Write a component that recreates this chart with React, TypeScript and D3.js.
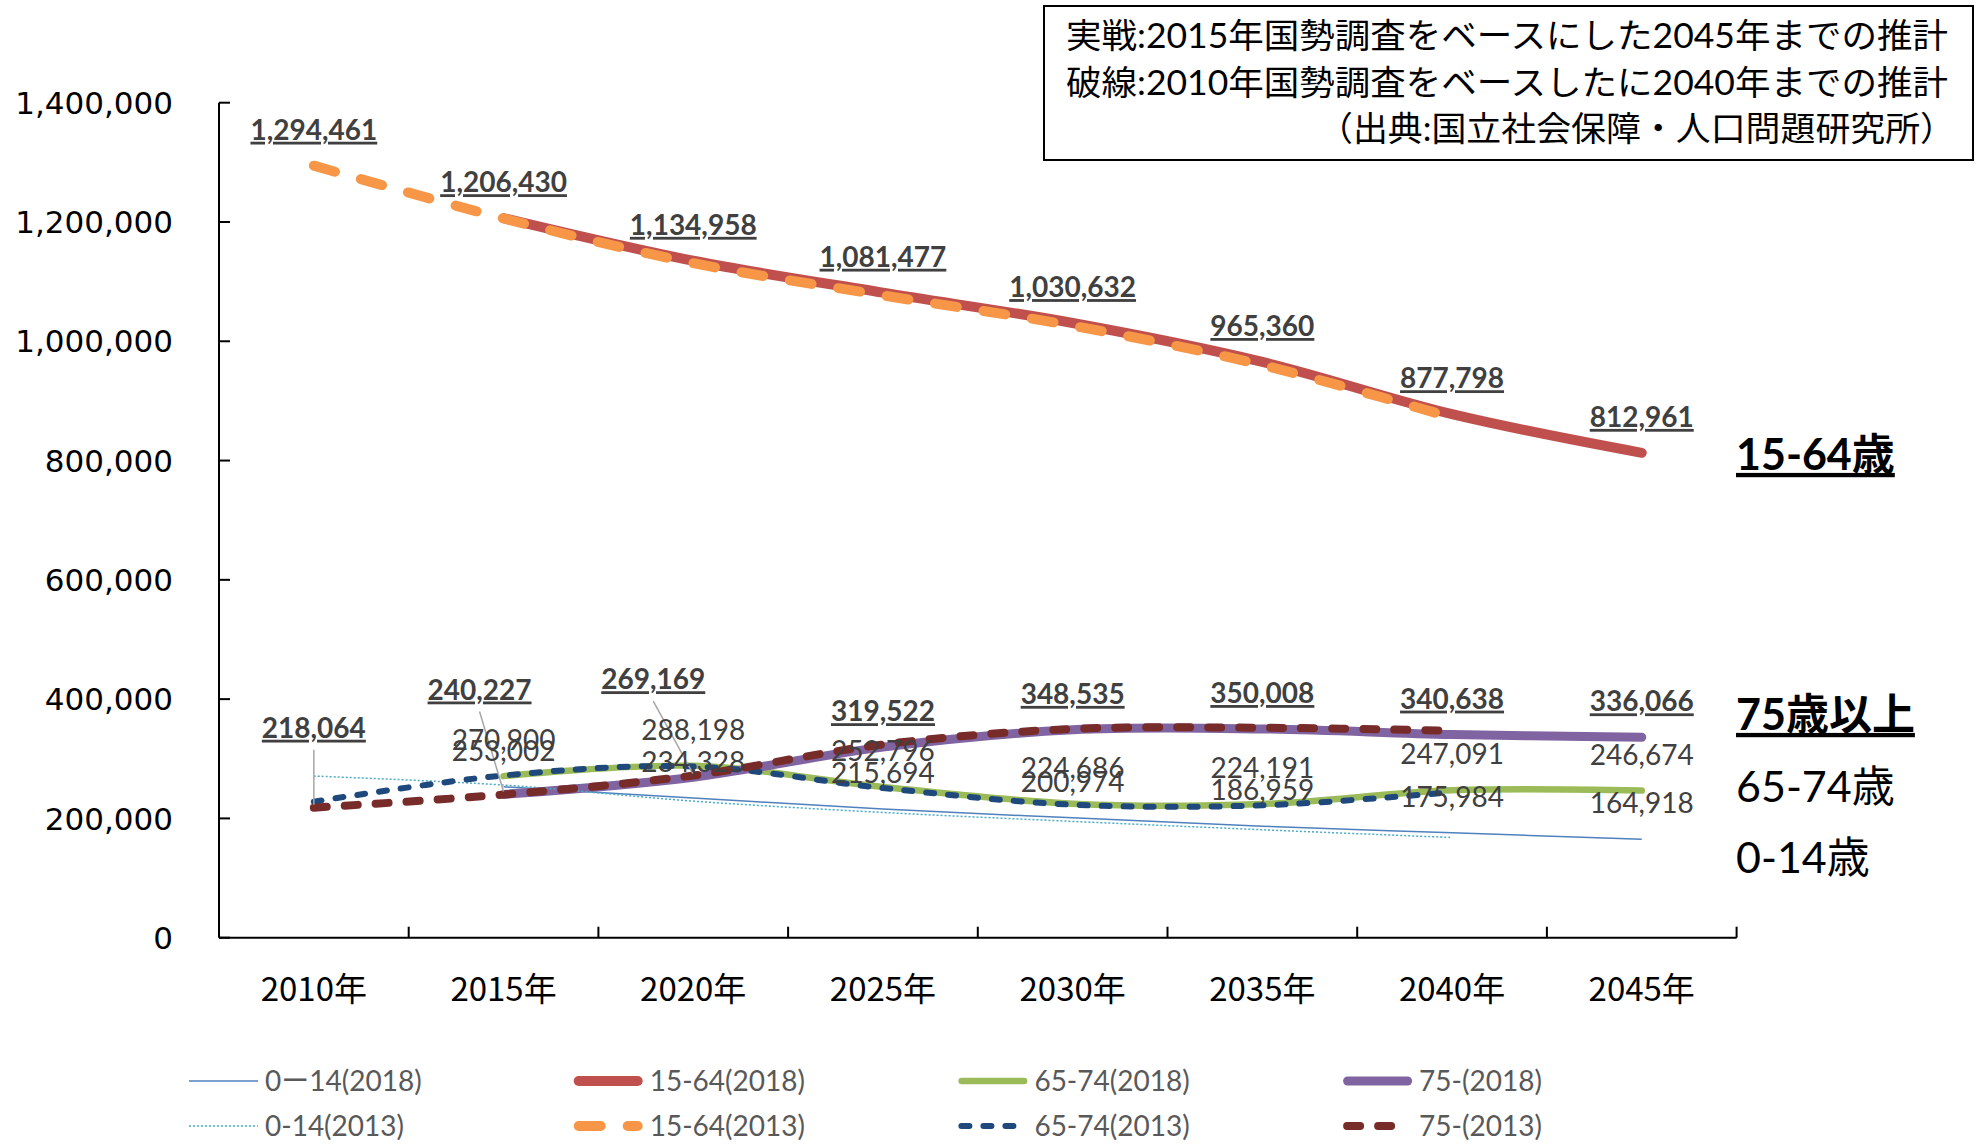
import React from "react";
import * as d3 from "d3";

// categories / values
const years = ["2010年", "2015年", "2020年", "2025年", "2030年", "2035年", "2040年", "2045年"];

// 2018 projection (solid) – based on the 2015 census
const age0_14_2018 = [null, 253002, 234328, 215694, 200974, 186959, 175984, 164918];
const age15_64_2018 = [null, 1206430, 1134958, 1081477, 1030632, 965360, 877798, 812961];
const age65_74_2018 = [null, 270900, 288198, 252796, 224686, 224191, 247091, 246674];
const age75_2018 = [null, 240227, 269169, 319522, 348535, 350008, 340638, 336066];

// 2013 projection (dashed) – based on the 2010 census
const age0_14_2013 = [271000, 256000, 229000, 210000, 195000, 181000, 168000, null];
const age15_64_2013 = [1294461, 1206000, 1131000, 1077000, 1026000, 960000, 872000, null];
const age65_74_2013 = [228000, 272000, 287000, 251000, 223000, 222000, 244000, null];
const age75_2013 = [218064, 240000, 272000, 324000, 350000, 352000, 347000, null];

const yMax = 1400000;

const noteLines = [
  "実戦:2015年国勢調査をベースにした2045年までの推計",
  "破線:2010年国勢調査をベースしたに2040年までの推計",
  "（出典:国立社会保障・人口問題研究所）",
];

const sideLabels = ["15-64歳", "75歳以上", "65-74歳", "0-14歳"];

type Series = {
  key: string;
  name: string;
  values: (number | null)[];
  color: string;
  width: number;
  dash?: string;
  cap?: "round" | "butt";
  labels?: "bold" | "plain" | "first";
};

const series: Series[] = [
  { key: "a18", name: "0ー14(2018)", values: age0_14_2018, color: "#4F81BD", width: 1.5, labels: "plain" },
  { key: "b18", name: "15-64(2018)", values: age15_64_2018, color: "#C0504D", width: 10, cap: "round", labels: "bold" },
  { key: "c18", name: "65-74(2018)", values: age65_74_2018, color: "#9BBB59", width: 6.5, cap: "round", labels: "plain" },
  { key: "d18", name: "75-(2018)", values: age75_2018, color: "#8064A2", width: 9, cap: "round", labels: "bold" },
  { key: "a13", name: "0-14(2013)", values: age0_14_2013, color: "#4BACC6", width: 1.5, dash: "2 2" },
  { key: "b13", name: "15-64(2013)", values: age15_64_2013, color: "#F79646", width: 10, dash: "22 27", cap: "round", labels: "first" },
  { key: "c13", name: "65-74(2013)", values: age65_74_2013, color: "#1F497D", width: 6, dash: "8 14", cap: "round" },
  { key: "d13", name: "75-(2013)", values: age75_2013, color: "#772C2A", width: 8, dash: "13 18", cap: "round", labels: "first" },
];

// labels that were dragged away from their point (drawn with a leader line)
const movedLabels: Record<string, [number, number]> = {
  "d13-0": [0, -80],
  "d18-1": [-24, -105],
  "d18-2": [-40, -98],
};

const W = 1977;
const H = 1144;
const fontLatin = "Lato, 'Noto Sans CJK JP', sans-serif";
const fmt = d3.format(",");

export default function App() {
  const x = d3.scaleBand<string>().domain(years).range([219, 1736.6]);
  const cx = (i: number) => (x(years[i]) ?? 0) + x.bandwidth() / 2;
  const y = d3.scaleLinear().domain([0, yMax]).range([937.7, 102.7]);

  const line = d3
    .line<number | null>()
    .defined((d) => d != null)
    .x((_, i) => cx(i))
    .y((d) => y(d as number))
    .curve(d3.curveCatmullRom);

  const labels: { x: number; y: number; px: number; py: number; text: string; bold: boolean; moved: boolean }[] = [];
  series.forEach((s) => {
    if (!s.labels) return;
    s.values.forEach((v, i) => {
      if (v == null) return;
      if (s.labels === "first" && i !== 0) return;
      const k = `${s.key}-${i}`;
      const off = movedLabels[k] ?? [0, -36];
      labels.push({
        x: cx(i) + off[0],
        y: y(v) + off[1],
        px: cx(i),
        py: y(v),
        text: fmt(v),
        bold: s.labels !== "plain",
        moved: k in movedLabels,
      });
    });
  });

  const sideY = [454, 714, 786, 857];

  return (
    <svg width={W} height={H} style={{ position: "absolute", left: 0, top: 0, background: "#fff" }}>
      {/* y axis */}
      <line x1={219} x2={219} y1={y(yMax)} y2={y(0)} stroke="#000" strokeWidth={2} />
      {y.ticks(7).map((t) => (
        <g key={t}>
          <line x1={219} x2={230} y1={y(t)} y2={y(t)} stroke="#000" strokeWidth={2} />
          <text
            x={173}
            y={y(t)}
            dy="0.36em"
            textAnchor="end"
            fontFamily="'DejaVu Sans', Verdana, sans-serif"
            fontSize={31}
            fill="#000"
          >
            {fmt(t)}
          </text>
        </g>
      ))}

      {/* x axis */}
      <line x1={219} x2={1736.6} y1={y(0)} y2={y(0)} stroke="#000" strokeWidth={2} />
      {years.map((yr, i) => (
        <g key={yr}>
          <line
            x1={(x(yr) ?? 0) + x.bandwidth()}
            x2={(x(yr) ?? 0) + x.bandwidth()}
            y1={y(0)}
            y2={y(0) - 11}
            stroke="#000"
            strokeWidth={2}
          />
          <text x={cx(i)} y={1001} textAnchor="middle" fontFamily="'Noto Sans CJK JP', sans-serif" fontSize={33} fill="#000">
            {yr}
          </text>
        </g>
      ))}

      {/* lines */}
      {series.map((s) => (
        <path
          key={s.key}
          d={line(s.values) ?? ""}
          fill="none"
          stroke={s.color}
          strokeWidth={s.width}
          strokeDasharray={s.dash}
          strokeLinecap={s.cap ?? "butt"}
          strokeLinejoin="round"
        />
      ))}

      {/* leader lines */}
      {labels
        .filter((l) => l.moved)
        .map((l, i) => (
          <line key={i} x1={l.x} y1={l.y + 22} x2={l.px} y2={l.py - 3} stroke="#A6A6A6" strokeWidth={1.5} />
        ))}

      {/* data labels */}
      {labels.map((l, i) => (
        <text
          key={i}
          x={l.x}
          y={l.y}
          dy="0.36em"
          textAnchor="middle"
          fontFamily={fontLatin}
          fontSize={28}
          fontWeight={l.bold ? 700 : 400}
          textDecoration={l.bold ? "underline" : undefined}
          fill="#404040"
        >
          {l.text}
        </text>
      ))}

      {/* group labels on the right */}
      {sideLabels.map((t, i) => (
        <text
          key={t}
          x={1736}
          y={sideY[i]}
          dy="0.37em"
          fontFamily={fontLatin}
          fontSize={43}
          fontWeight={i < 2 ? 700 : 400}
          textDecoration={i < 2 ? "underline" : undefined}
          fill="#000"
        >
          {t}
        </text>
      ))}

      {/* legend */}
      {series.map((s, i) => {
        const col = i % 4;
        const row = Math.floor(i / 4);
        const lx = 189 + col * 384.7;
        const ly = 1081 + row * 45;
        const pad = s.cap === "round" ? s.width / 2 : 0;
        return (
          <g key={s.key}>
            <line
              x1={lx + pad}
              x2={lx + 69 - pad}
              y1={ly}
              y2={ly}
              stroke={s.color}
              strokeWidth={s.width}
              strokeDasharray={s.dash}
              strokeLinecap={s.cap ?? "butt"}
            />
            <text x={lx + 76} y={ly} dy="0.36em" fontFamily={fontLatin} fontSize={28} fill="#595959">
              {s.name}
            </text>
          </g>
        );
      })}

      {/* note box */}
      <rect x={1044} y={6} width={929} height={154} fill="#fff" stroke="#000" strokeWidth={2} />
      {noteLines.map((t, i) => (
        <text
          key={i}
          x={i < 2 ? 1066 : 1318}
          y={48 + i * 46.5}
          fontFamily={fontLatin}
          fontSize={34}
          fill="#000"
          textLength={i < 2 ? 882 : 637}
          lengthAdjust="spacingAndGlyphs"
        >
          {t}
        </text>
      ))}
    </svg>
  );
}
